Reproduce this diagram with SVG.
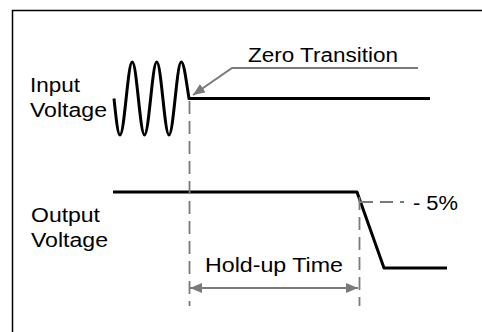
<svg xmlns="http://www.w3.org/2000/svg" width="482" height="332" viewBox="0 0 482 332">
<style>
.lbl{font-family:"Liberation Sans",Arial,sans-serif;font-size:19.5px;fill:#000}
.sig{fill:none;stroke:#000;stroke-width:3;stroke-linejoin:round}
.dash{fill:none;stroke:#7a7a7a;stroke-width:1.8;stroke-dasharray:13,7}
.ptr{fill:none;stroke:#7a7a7a;stroke-width:2}
</style>
<defs>
<marker id="ah" viewBox="0 0 12 10" refX="12" refY="5" markerWidth="12" markerHeight="10" markerUnits="userSpaceOnUse" orient="auto-start-reverse">
<path d="M0,0 L12,5 L0,10 Z" fill="#7a7a7a"/>
</marker>
</defs>
<path id="frame" d="M12.5,332 V10.5 H482" fill="none" stroke="#000" stroke-width="1.5"/>
<g id="input-label"><text class="lbl" x="30" y="92" textLength="50" lengthAdjust="spacingAndGlyphs">Input</text><text class="lbl" x="30" y="117" textLength="77" lengthAdjust="spacingAndGlyphs">Voltage</text></g>
<g id="output-label"><text class="lbl" x="31" y="222" textLength="69" lengthAdjust="spacingAndGlyphs">Output</text><text class="lbl" x="31" y="247" textLength="77" lengthAdjust="spacingAndGlyphs">Voltage</text></g>
<g id="input-signal"><path class="sig" d="M114,98.5 C116,117.5 117.8,135 120,135 C124.46,135 127.79,62 132.25,62 C136.71,62 140.04,135 144.5,135 C148.96,135 152.29,62 156.75,62 C161.21,62 164.54,135 169,135 C173.46,135 176.79,62 181.25,62 C184,62 186,80 189,98.5 H430"/></g>
<g id="output-signal"><path class="sig" d="M113,192 H357 L384,268 H447"/></g>
<g id="zero-transition"><text class="lbl" x="248" y="62" textLength="150" lengthAdjust="spacingAndGlyphs">Zero Transition</text></g>
<g id="minus5"><text class="lbl" x="413" y="210" textLength="45" lengthAdjust="spacingAndGlyphs">- 5%</text></g>
<g id="holdup"><text class="lbl" x="205" y="272" textLength="138" lengthAdjust="spacingAndGlyphs">Hold-up Time</text></g>
<g id="connectors">
<path class="dash" d="M189.5,101 V306"/>
<path class="dash" d="M359.5,197 V306"/>
<path class="dash" d="M360,202 H404"/>
<path class="ptr" d="M418,68 H232 L193,95" marker-end="url(#ah)"/>
<path class="ptr" d="M190,288 H358" marker-start="url(#ah)" marker-end="url(#ah)"/>
</g>
</svg>
